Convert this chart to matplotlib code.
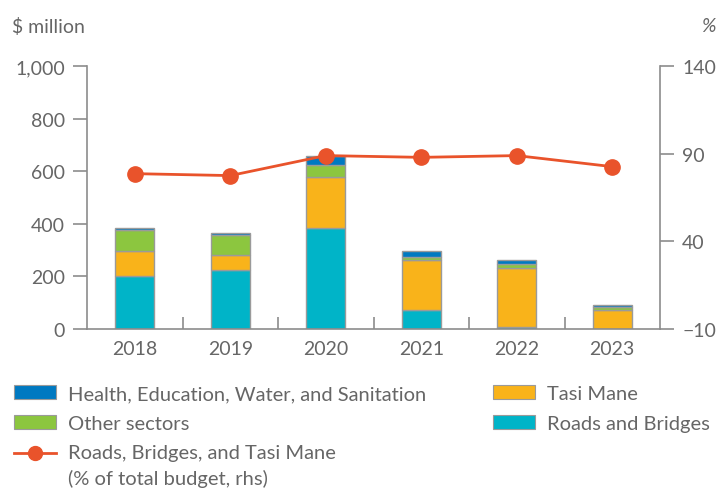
import matplotlib
matplotlib.use("Agg")
import matplotlib.pyplot as plt
from matplotlib.lines import Line2D
from matplotlib.patches import Patch
from matplotlib.legend_handler import HandlerLine2D
import numpy as np

years = ["2018", "2019", "2020", "2021", "2022", "2023"]
roads = [203, 224, 385, 73, 9, 1]
tasi = [95, 59, 194, 188, 222, 71]
other = [80, 75, 45, 14, 17, 10]
health = [6, 7, 35, 20, 13, 8]
share = [78.6, 77.5, 88.9, 87.9, 88.9, 82.6]

left_ticks = [0, 200, 400, 600, 800, 1000]
right_ticks = [-10, 40, 90, 140]

c_roads = "#00B4C8"
c_tasi = "#F9B31A"
c_other = "#8CC63F"
c_health = "#0079C1"
c_line = "#E9532B"
edge = "#9a9a9a"
txt = "#666666"
axc = "#8c8c8c"

plt.rcParams['font.family'] = ['Lato', 'DejaVu Sans']
fs = 14
lfs = 14.5


class ShiftedLineHandler(HandlerLine2D):
    def __init__(self, shift, **kw):
        super().__init__(**kw)
        self.shift = shift

    def create_artists(self, legend, orig_handle, xdescent, ydescent,
                       width, height, fontsize, trans):
        arts = super().create_artists(legend, orig_handle, xdescent, ydescent,
                                      width, height, fontsize, trans)
        for a in arts:
            y = np.asarray(a.get_ydata(), dtype=float)
            a.set_ydata(y + self.shift * fontsize)
        return arts


fig = plt.figure(figsize=(7.2, 4.89), dpi=100)
ax = fig.add_axes([87/720, 1-330/489, (660-87)/720, (330-67)/489])
ax2 = ax.twinx()

x = np.arange(len(years))
w = 0.41
kw = dict(width=w, edgecolor=edge, linewidth=1.0, zorder=2)
ax.bar(x, roads, color=c_roads, **kw)
b1 = np.array(roads)
ax.bar(x, tasi, bottom=b1, color=c_tasi, **kw)
b2 = b1 + np.array(tasi)
ax.bar(x, other, bottom=b2, color=c_other, **kw)
b3 = b2 + np.array(other)
ax.bar(x, health, bottom=b3, color=c_health, **kw)

ax2.plot(x, share, color=c_line, lw=2, marker='o', ms=11, zorder=5)

ax.set_xlim(-0.5, 5.5)
ax.set_ylim(0, 1000)
ax2.set_ylim(-10, 140)
ax.set_yticks(left_ticks)
ax.set_yticklabels([f"{v:,}" for v in left_ticks])
ax2.set_yticks(right_ticks)
ax2.set_yticklabels(["\u221210" if v < 0 else str(v) for v in right_ticks])
ax.set_xticks(x)
ax.set_xticklabels(years)
ax.set_xticks(np.arange(0.5, 5.5, 1), minor=True)

for a in (ax, ax2):
    a.spines['top'].set_visible(False)
    for s in a.spines.values():
        s.set_color(axc)
        s.set_linewidth(1.2)
    a.tick_params(colors=axc, labelcolor=txt, labelsize=fs, width=1.2)
ax.spines['right'].set_visible(False)
ax2.spines['left'].set_visible(False)
ax2.spines['bottom'].set_visible(False)
ax.tick_params(axis='y', length=10, pad=6)
ax2.tick_params(axis='y', length=10, pad=6)
ax.tick_params(axis='x', which='major', length=0, pad=8)
ax.tick_params(axis='x', which='minor', length=9, direction='in', width=1.2, colors=axc)

fig.text(12/720, 1-27/489, "$ million", color=txt, fontsize=fs, ha='left', va='center')
fig.text(716/720, 1-27/489, "%", color=txt, fontsize=fs, ha='right', va='center', style='italic')

line_handle = Line2D([0], [0], color=c_line, lw=2, marker='o', ms=10)
handles = [
    Patch(facecolor=c_health, edgecolor=edge, linewidth=0.8),
    Patch(facecolor=c_other, edgecolor=edge, linewidth=0.8),
    line_handle,
    Patch(facecolor=c_tasi, edgecolor=edge, linewidth=0.8),
    Patch(facecolor=c_roads, edgecolor=edge, linewidth=0.8),
]
labels = [
    "Health, Education, Water, and Sanitation",
    "Other sectors",
    "Roads, Bridges, and Tasi Mane\n(% of total budget, rhs)",
    "Tasi Mane",
    "Roads and Bridges",
]
leg = fig.legend(handles, labels, ncol=2, loc='upper left',
                 bbox_to_anchor=(14/720, 1-386/489), frameon=False,
                 fontsize=lfs, handlelength=2.1, handleheight=0.7,
                 handletextpad=0.6, columnspacing=3.3, labelspacing=0.62,
                 borderaxespad=0, borderpad=0,
                 handler_map={line_handle: ShiftedLineHandler(0.6)})
for t in leg.get_texts():
    t.set_color(txt)
    t.set_linespacing(1.5)

fig.savefig("out.png", dpi=100)
